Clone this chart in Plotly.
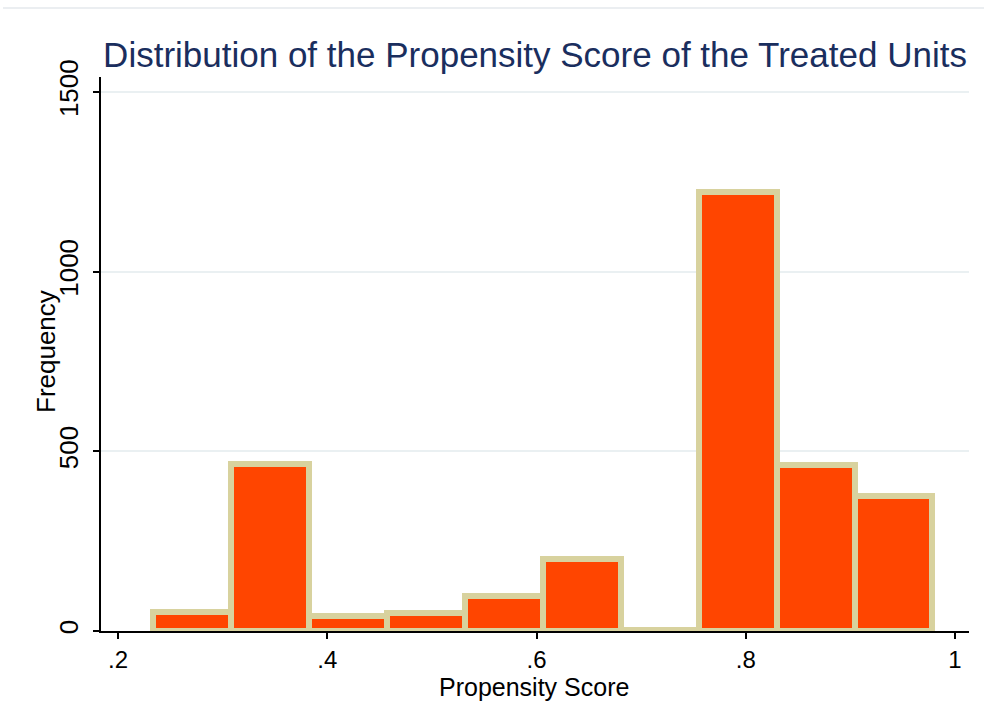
import plotly.graph_objects as go

# Histogram bins (lower edges) and bin width, frequencies
bin_lower = [0.2335, 0.3080, 0.3825, 0.4570, 0.5315, 0.6060, 0.6805, 0.7550, 0.8295, 0.9040]
bin_width = 0.0745
frequency = [54, 466, 43, 50, 98, 201, 3, 1221, 463, 375]

x_ticks = [0.2, 0.4, 0.6, 0.8, 1.0]
x_ticklabels = [".2", ".4", ".6", ".8", "1"]
y_ticks = [0, 500, 1000, 1500]
y_ticklabels = ["0", "500", "1000", "1500"]

centers = [lo + bin_width / 2 for lo in bin_lower]

FONT = "Liberation Sans, Arial, Helvetica, sans-serif"

fig = go.Figure()
fig.add_trace(go.Bar(
    x=centers,
    y=frequency,
    width=[bin_width] * len(frequency),
    marker=dict(color="#FF4500", line=dict(color="#D8D29E", width=6)),
    cliponaxis=False,
    hoverinfo="x+y",
))

fig.update_layout(
    width=984, height=725,
    margin=dict(l=101, r=15, t=77, b=94),
    paper_bgcolor="white",
    plot_bgcolor="white",
    showlegend=False,
    font=dict(family=FONT, color="black", size=25),
    title=dict(
        text="Distribution of the Propensity Score of the Treated Units",
        font=dict(family=FONT, size=35, color="#1A2E5E"),
        x=0.5, xref="paper", xanchor="center",
        y=1 - 55 / 725, yref="container", yanchor="middle",
    ),
    bargap=0,
)

fig.update_xaxes(
    range=[0.1837, 1.0134],
    tickmode="array", tickvals=x_ticks, ticktext=x_ticklabels,
    ticks="outside", ticklen=6, tickwidth=1.5, tickcolor="black",
    showline=True, linecolor="black", linewidth=1.5,
    showgrid=False, zeroline=False,
    tickfont=dict(size=24, family=FONT),
)
fig.update_yaxes(
    range=[0, 1542],
    tickmode="array", tickvals=y_ticks, ticktext=y_ticklabels,
    tickangle=-90,
    ticks="outside", ticklen=6, tickwidth=1.5, tickcolor="black",
    ticklabelstandoff=5,
    showline=True, linecolor="black", linewidth=1.5,
    showgrid=True, gridcolor="#EAF0F2", gridwidth=2,
    zeroline=False,
    tickfont=dict(size=26, family=FONT),
)

# axis titles placed as in the reference
fig.add_annotation(
    text="Frequency", textangle=-90, showarrow=False,
    xref="paper", yref="paper", x=-55 / 868, y=0.5036,
    xanchor="center", yanchor="middle",
    font=dict(size=26, family=FONT, color="black"),
)
fig.add_annotation(
    text="Propensity Score", showarrow=False,
    xref="paper", yref="paper", x=(534 - 101) / 868, y=-(687 - 631) / 554,
    xanchor="center", yanchor="middle",
    font=dict(size=25, family=FONT, color="black"),
)

# thin separator line at top of page
fig.add_shape(type="line", xref="paper", yref="paper",
              x0=-98 / 868, x1=1 + 15 / 868, y0=1 + 69 / 554, y1=1 + 69 / 554,
              line=dict(color="#E4E8EC", width=1.5))

fig.write_html(
    "out.html",
    config={"displayModeBar": False},
    post_script="document.body.style.margin='0';document.body.style.padding='0';",
)
